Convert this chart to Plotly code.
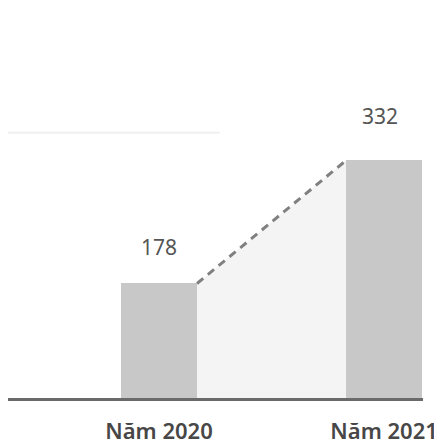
import plotly.graph_objects as go

categories = ["Năm 2020", "Năm 2021"]
values = [178, 332]
value_labels = ["178", "332"]

BAR_W = 0.338
pos = [0, 1]

fig = go.Figure()

# faint fill + dashed connector between bar tops
cx = [pos[0] + BAR_W / 2, pos[1] - BAR_W / 2]
fig.add_trace(go.Scatter(
    x=[cx[0], cx[1], cx[1], cx[0]], y=[values[0], values[1], 0, 0],
    fill="toself", fillcolor="#f4f4f4", mode="none", hoverinfo="skip",
    showlegend=False))
fig.add_trace(go.Scatter(
    x=cx, y=values, mode="lines",
    line=dict(color="#808080", width=3, dash="8px,6px"),
    hoverinfo="skip", showlegend=False))

fig.add_trace(go.Bar(
    x=pos, y=values, width=BAR_W,
    marker=dict(color="#c8c8c8", line=dict(width=0)),
    showlegend=False))

shifts = [20, 28]
xshift = [0, -4]
for i, (v, t) in enumerate(zip(values, value_labels)):
    fig.add_annotation(x=pos[i], y=v, text=t, showarrow=False,
                       yanchor="bottom", yshift=shifts[i], xshift=xshift[i],
                       font=dict(family="Noto Sans", size=21, color="#555555"))

# faint line near top left (background artifact)
fig.add_shape(type="line", xref="paper", yref="paper",
              x0=-0.02, x1=0.51, y0=0.89, y1=0.89,
              line=dict(color="#f0f0f0", width=2))

fig.update_layout(
    width=434, height=439,
    margin=dict(l=0, r=19, t=92, b=49),
    plot_bgcolor="white", paper_bgcolor="white",
    bargap=0,
    xaxis=dict(range=[-0.671, 1.173], tickmode="array", tickvals=pos,
               ticktext=categories, showgrid=False, zeroline=False,
               showline=True, linecolor="#6a6a6a", linewidth=2.5,
               ticks="", ticklabelstandoff=12,
               tickfont=dict(family="Noto Sans", size=22, color="#474747",
                             weight=600)),
    yaxis=dict(range=[34.6, 34.6 + 298 / 0.7987], visible=False,
               showgrid=False, zeroline=False),
)

fig.write_html("out.html")
